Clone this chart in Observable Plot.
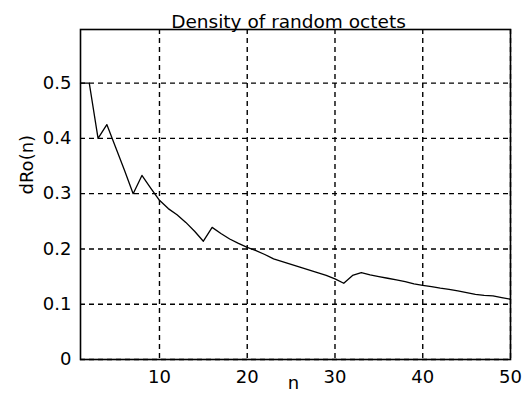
<!DOCTYPE html>
<html>
<head>
<meta charset="utf-8">
<script src="https://cdn.jsdelivr.net/npm/d3@7"></script>
<script src="https://cdn.jsdelivr.net/npm/@observablehq/plot@0.6"></script>
<style>
  body { margin: 0; background: #fff; }
  #chart { width: 532px; height: 401px; }
</style>
</head>
<body>
<div id="chart"></div>
<script>
const titleText = "Density of random octets";
const xLabel = "n";
const yLabel = "dRo(n)";

const nValues = d3.range(1, 51);
const densityValues = [
  0.500, 0.500, 0.400, 0.425, 0.384, 0.343, 0.300, 0.333, 0.310, 0.288,
  0.273, 0.262, 0.248, 0.232, 0.214, 0.239, 0.228, 0.218, 0.210, 0.203,
  0.197, 0.190, 0.182, 0.177, 0.172, 0.167, 0.162, 0.157, 0.152, 0.146,
  0.138, 0.152, 0.157, 0.153, 0.150, 0.147, 0.144, 0.141, 0.137, 0.134,
  0.132, 0.129, 0.127, 0.124, 0.121, 0.118, 0.116, 0.115, 0.112, 0.109
];
const xTicks = [10, 20, 30, 40, 50];
const yTicks = [0, 0.1, 0.2, 0.3, 0.4, 0.5];

const data = nValues.map((n, i) => ({n, v: densityValues[i]}));

const chart = Plot.plot({
  width: 532,
  height: 401,
  marginLeft: 80,
  marginRight: 22,
  marginTop: 29,
  marginBottom: 42,
  style: {fontFamily: "'DejaVu Sans', sans-serif", fontSize: "18px", color: "#000", background: "#fff"},
  x: {domain: [1, 50], ticks: xTicks},
  y: {domain: [0, 0.597], ticks: yTicks},
  marks: [
    Plot.gridX(xTicks, {stroke: "#000", strokeOpacity: 1, strokeDasharray: "5,4", strokeWidth: 1.4}),
    Plot.gridY(yTicks, {stroke: "#000", strokeOpacity: 1, strokeDasharray: "5,4", strokeWidth: 1.4}),
    Plot.axisX(xTicks, {tickSize: 0, tickPadding: 11, label: null, fontSize: 18}),
    Plot.axisY(yTicks, {tickSize: 0, tickPadding: 9, label: null, fontSize: 18, tickFormat: d3.format("~g")}),
    Plot.line(data, {x: "n", y: "v", stroke: "#000", strokeWidth: 1.3}),
    Plot.frame({stroke: "#000", strokeWidth: 1.6}),
    Plot.text([titleText], {frameAnchor: "top", dy: -15, dx: -7, fontSize: 18.5, fill: "#000"}),
    Plot.text([xLabel], {frameAnchor: "bottom", dy: 29, dx: -2, fontSize: 18, fill: "#000"}),
    Plot.text([yLabel], {frameAnchor: "left", dx: -53, rotate: -90, fontSize: 18, fill: "#000"})
  ]
});
document.getElementById("chart").appendChild(chart);
</script>
</body>
</html>
